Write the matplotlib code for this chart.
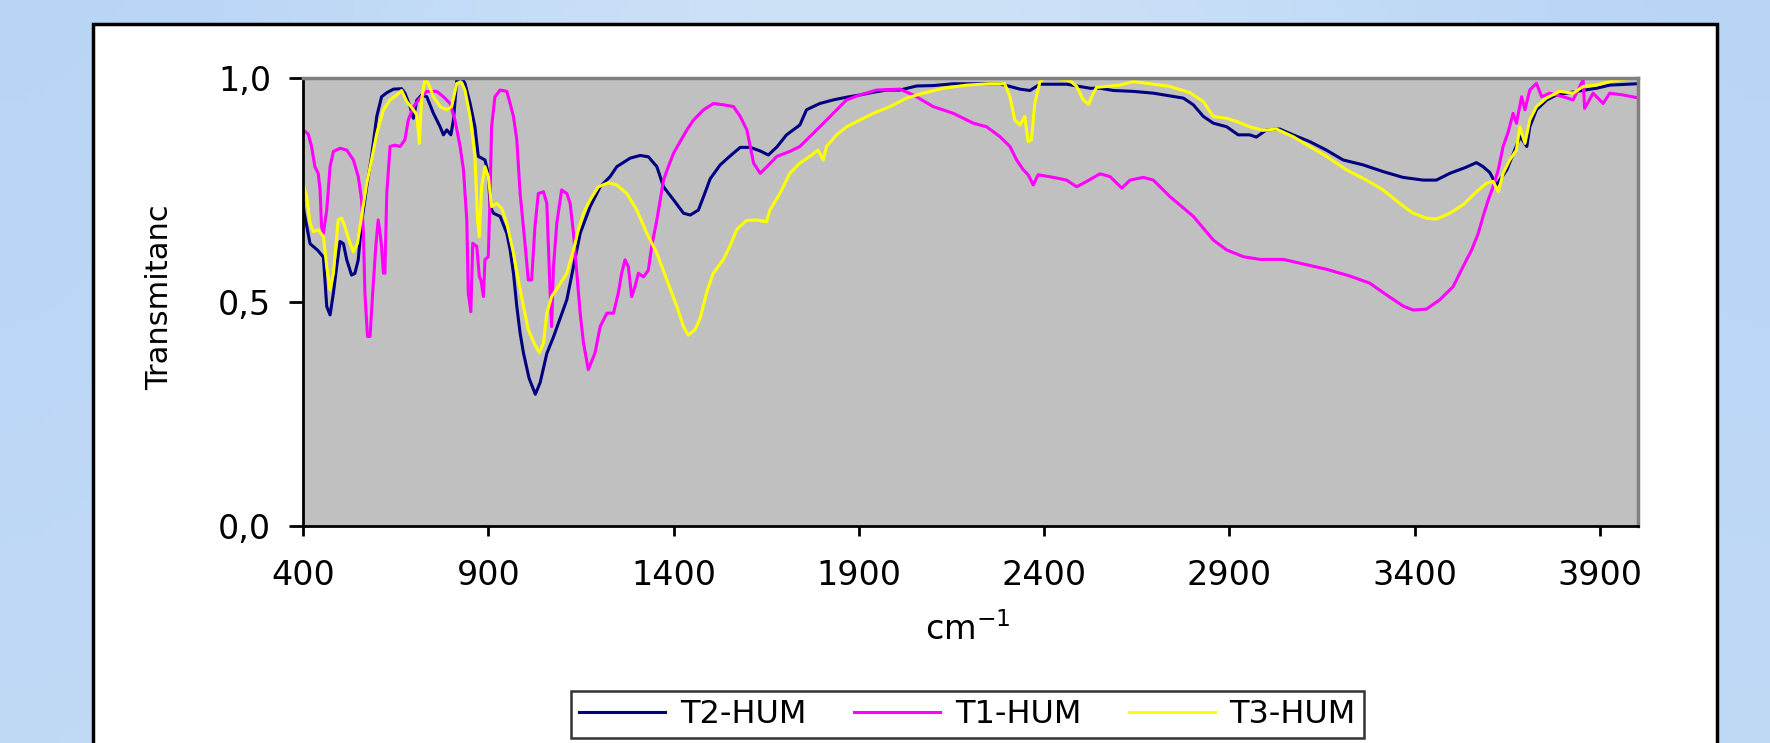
import numpy as np
import matplotlib
matplotlib.use("Agg")
import matplotlib.pyplot as plt
from matplotlib.patches import Rectangle
from matplotlib.ticker import FuncFormatter

# espectros (cm-1, transmitancia)
t2_cm = [400, 403, 419, 440, 455, 464, 473, 482, 491, 500,
         509, 518, 531, 540, 549, 558, 572, 585, 599, 612,
         626, 644, 666, 675, 689, 698, 707, 720, 734, 752,
         770, 779, 788, 799, 806, 815, 828, 837, 851, 864,
         873, 882, 891, 900, 905, 914, 932, 950, 959, 968,
         977, 986, 995, 1010, 1027, 1040, 1058, 1076, 1112, 1130,
         1148, 1175, 1202, 1229, 1247, 1283, 1310, 1332, 1355, 1373,
         1400, 1427, 1445, 1467, 1481, 1499, 1526, 1553, 1580, 1607,
         1634, 1656, 1679, 1705, 1741, 1759, 1795, 1831, 1867, 1903,
         1939, 1975, 2011, 2056, 2101, 2155, 2209, 2281, 2308, 2335,
         2362, 2389, 2461, 2497, 2524, 2551, 2587, 2641, 2695, 2740,
         2776, 2803, 2830, 2857, 2893, 2924, 2955, 2973, 3000, 3036,
         3072, 3117, 3162, 3207, 3261, 3315, 3369, 3423, 3459, 3495,
         3540, 3567, 3585, 3603, 3621, 3630, 3649, 3667, 3685, 3703,
         3711, 3729, 3757, 3783, 3837, 3891, 3927, 4000]
t2_tr = [0.72, 0.70, 0.63, 0.615, 0.60, 0.49, 0.471, 0.52, 0.58, 0.635,
         0.63, 0.594, 0.56, 0.564, 0.594, 0.676, 0.758, 0.825, 0.914, 0.958,
         0.967, 0.975, 0.976, 0.966, 0.936, 0.91, 0.95, 0.962, 0.958, 0.921,
         0.891, 0.873, 0.884, 0.873, 0.906, 0.996, 1.0, 0.988, 0.943, 0.891,
         0.825, 0.821, 0.817, 0.787, 0.713, 0.698, 0.691, 0.653, 0.616, 0.564,
         0.49, 0.43, 0.386, 0.33, 0.294, 0.32, 0.385, 0.422, 0.505, 0.579,
         0.653, 0.713, 0.757, 0.78, 0.802, 0.821, 0.827, 0.824, 0.802, 0.757,
         0.728, 0.698, 0.694, 0.705, 0.735, 0.775, 0.806, 0.826, 0.845, 0.845,
         0.837, 0.828, 0.846, 0.873, 0.895, 0.929, 0.943, 0.951, 0.957, 0.962,
         0.968, 0.973, 0.973, 0.982, 0.983, 0.987, 0.987, 0.987, 0.981, 0.975,
         0.972, 0.986, 0.986, 0.981, 0.977, 0.977, 0.972, 0.97, 0.966, 0.96,
         0.955, 0.94, 0.914, 0.899, 0.891, 0.873, 0.873, 0.868, 0.884, 0.886,
         0.873, 0.858, 0.839, 0.817, 0.806, 0.791, 0.778, 0.772, 0.772, 0.787,
         0.801, 0.811, 0.802, 0.789, 0.761, 0.772, 0.795, 0.832, 0.869, 0.847,
         0.891, 0.929, 0.951, 0.962, 0.97, 0.977, 0.984, 0.987]

t1_cm = [400, 414, 423, 432, 441, 446, 450, 455, 464, 473,
         482, 500, 518, 536, 549, 558, 563, 567, 574, 581,
         588, 597, 603, 608, 612, 617, 621, 626, 635, 648,
         662, 675, 684, 698, 716, 734, 761, 779, 797, 810,
         824, 833, 842, 846, 853, 858, 869, 876, 880, 887,
         891, 900, 905, 909, 918, 932, 950, 959, 968, 977,
         986, 999, 1008, 1017, 1026, 1035, 1049, 1058, 1067, 1071,
         1076, 1085, 1098, 1112, 1121, 1130, 1139, 1148, 1157, 1170,
         1188, 1202, 1220, 1238, 1251, 1260, 1269, 1278, 1287, 1296,
         1305, 1319, 1332, 1341, 1355, 1364, 1373, 1386, 1400, 1418,
         1436, 1454, 1481, 1508, 1535, 1562, 1580, 1598, 1616, 1634,
         1652, 1679, 1714, 1741, 1768, 1795, 1831, 1867, 1903, 1948,
         2011, 2047, 2101, 2155, 2209, 2245, 2281, 2308, 2326, 2344,
         2357, 2371, 2384, 2425, 2461, 2488, 2515, 2551, 2578, 2610,
         2632, 2668, 2695, 2740, 2803, 2857, 2893, 2938, 2983, 3046,
         3099, 3162, 3225, 3279, 3324, 3369, 3396, 3432, 3468, 3504,
         3531, 3554, 3572, 3585, 3599, 3612, 3626, 3639, 3653, 3666,
         3675, 3689, 3698, 3711, 3729, 3743, 3765, 3801, 3828, 3855,
         3859, 3882, 3909, 3927, 3963, 4000]
t1_tr = [0.884, 0.875, 0.847, 0.802, 0.787, 0.75, 0.668, 0.653, 0.705, 0.802,
         0.836, 0.843, 0.839, 0.817, 0.78, 0.728, 0.653, 0.52, 0.423, 0.423,
         0.52, 0.631, 0.683, 0.653, 0.624, 0.564, 0.564, 0.742, 0.847, 0.85,
         0.847, 0.862, 0.906, 0.936, 0.955, 0.97, 0.97, 0.958, 0.943, 0.906,
         0.847, 0.795, 0.683, 0.52, 0.478, 0.631, 0.624, 0.556, 0.549, 0.512,
         0.594, 0.601, 0.742, 0.891, 0.958, 0.973, 0.97, 0.943, 0.914, 0.862,
         0.742, 0.631, 0.549, 0.549, 0.668, 0.742, 0.746, 0.72, 0.52, 0.445,
         0.579, 0.676, 0.75, 0.742, 0.72, 0.653, 0.564, 0.475, 0.408, 0.349,
         0.386, 0.445, 0.475, 0.475, 0.52, 0.564, 0.594, 0.579, 0.512, 0.534,
         0.564, 0.556, 0.571, 0.624, 0.683, 0.728, 0.772, 0.802, 0.832, 0.858,
         0.884, 0.906, 0.929, 0.943, 0.94, 0.936, 0.914, 0.884, 0.81, 0.787,
         0.802, 0.825, 0.836, 0.847, 0.869, 0.891, 0.921, 0.951, 0.962, 0.973,
         0.975, 0.962, 0.936, 0.921, 0.899, 0.891, 0.869, 0.847, 0.817, 0.795,
         0.784, 0.761, 0.784, 0.778, 0.772, 0.757, 0.769, 0.786, 0.78, 0.754,
         0.772, 0.778, 0.772, 0.735, 0.691, 0.638, 0.616, 0.601, 0.595, 0.595,
         0.585, 0.573, 0.558, 0.542, 0.516, 0.491, 0.482, 0.484, 0.505, 0.534,
         0.579, 0.616, 0.653, 0.691, 0.728, 0.757, 0.795, 0.847, 0.88, 0.921,
         0.899, 0.958, 0.929, 0.973, 0.988, 0.958, 0.966, 0.958, 0.951, 0.996,
         0.932, 0.966, 0.943, 0.966, 0.962, 0.956]

t3_cm = [400, 410, 419, 428, 441, 455, 464, 473, 482, 495,
         504, 513, 527, 536, 547, 558, 572, 585, 599, 617,
         635, 653, 666, 680, 698, 707, 714, 720, 729, 738,
         752, 770, 788, 801, 815, 828, 837, 851, 864, 871,
         876, 882, 891, 900, 909, 923, 936, 950, 968, 981,
         995, 1008, 1026, 1038, 1049, 1058, 1071, 1089, 1112, 1130,
         1143, 1157, 1175, 1197, 1224, 1247, 1274, 1301, 1328, 1355,
         1382, 1409, 1427, 1440, 1458, 1472, 1489, 1507, 1534, 1552,
         1570, 1597, 1624, 1651, 1660, 1687, 1714, 1741, 1768, 1790,
         1804, 1813, 1840, 1867, 1903, 1939, 1984, 2029, 2074, 2128,
         2191, 2254, 2294, 2308, 2321, 2335, 2348, 2357, 2366, 2375,
         2389, 2402, 2434, 2470, 2488, 2506, 2520, 2533, 2542, 2569,
         2605, 2641, 2677, 2740, 2794, 2830, 2857, 2893, 2919, 2955,
         2991, 3027, 3072, 3117, 3162, 3216, 3270, 3315, 3360, 3396,
         3432, 3459, 3495, 3531, 3567, 3594, 3612, 3626, 3639, 3657,
         3675, 3684, 3698, 3711, 3729, 3756, 3792, 3828, 3855, 3891,
         3927, 3963, 4000]
t3_tr = [0.765, 0.735, 0.676, 0.657, 0.661, 0.646, 0.579, 0.527, 0.564, 0.683,
         0.687, 0.668, 0.631, 0.612, 0.631, 0.691, 0.765, 0.817, 0.876, 0.929,
         0.951, 0.962, 0.972, 0.947, 0.929, 0.917, 0.854, 0.951, 0.999, 0.988,
         0.958, 0.936, 0.929, 0.936, 0.988, 0.99, 0.973, 0.914, 0.825, 0.683,
         0.646, 0.757, 0.802, 0.78, 0.713, 0.72, 0.709, 0.676, 0.609, 0.549,
         0.49, 0.438, 0.404, 0.387, 0.408, 0.475, 0.512, 0.534, 0.564, 0.616,
         0.661, 0.698, 0.728, 0.757, 0.766, 0.761, 0.742, 0.705, 0.653, 0.609,
         0.549, 0.49, 0.445, 0.426, 0.438, 0.464, 0.52, 0.564, 0.594, 0.624,
         0.661, 0.682, 0.683, 0.679, 0.705, 0.742, 0.787, 0.81, 0.825, 0.839,
         0.817, 0.847, 0.873, 0.891, 0.906, 0.921, 0.936, 0.955, 0.966, 0.977,
         0.984, 0.987, 0.987, 0.958, 0.906, 0.895, 0.914, 0.858, 0.862, 0.943,
         0.992, 1.0, 0.999, 0.994, 0.981, 0.951, 0.941, 0.966, 0.979, 0.981,
         0.984, 0.992, 0.988, 0.981, 0.967, 0.947, 0.914, 0.91, 0.903, 0.891,
         0.883, 0.886, 0.869, 0.847, 0.825, 0.795, 0.772, 0.75, 0.72, 0.698,
         0.687, 0.685, 0.698, 0.717, 0.746, 0.765, 0.769, 0.746, 0.787, 0.817,
         0.839, 0.891, 0.854, 0.906, 0.936, 0.955, 0.97, 0.966, 0.981, 0.984,
         0.992, 0.997, 1.0]

labels = ['T2-HUM', 'T1-HUM', 'T3-HUM']
cores = ['#000080', '#FF00FF', '#FFFF00']
x_ticks = [400, 900, 1400, 1900, 2400, 2900, 3400, 3900]
y_ticks = [0.0, 0.5, 1.0]

plt.rcParams['font.family'] = ['DejaVu Sans']

fig = plt.figure(figsize=(17.7, 7.43), dpi=100)

## fundo azul (gradiente simples)
bg = fig.add_axes([0, 0, 1, 1], zorder=-5)
gx = np.linspace(0, 1, 200)
gy = np.linspace(0, 1, 80)
GX, GY = np.meshgrid(gx, gy)
c1 = np.array([0.70, 0.82, 0.96])
c2 = np.array([0.83, 0.90, 0.97])
w = 0.5 + 0.5*np.cos(2*np.pi*(GX - 0.5)) * 0.6 + 0.2*GY
w = np.clip(w, 0, 1)[..., None]
bg.imshow(c1*(1-w) + c2*w, aspect='auto', extent=[0, 1, 0, 1])
bg.axis('off')

## moldura branca
fig.add_artist(Rectangle((0.0525, -0.05), 0.9175, 1.0177, transform=fig.transFigure,
                         facecolor='white', edgecolor='black', lw=2.5, zorder=0))

ax = fig.add_axes([0.1712, 0.2921, 0.7542, 0.6030], zorder=2)
ax.set_facecolor('#C0C0C0')

series = [(t2_cm, t2_tr), (t1_cm, t1_tr), (t3_cm, t3_tr)]
for (xs, ys), lab, cor in zip(series, labels, cores):
    ax.plot(xs, ys, '-', color=cor, lw=2.2, label=lab)

ax.set_xlim(400, 4003)
ax.set_ylim(0, 1.0)
ax.set_xticks(x_ticks)
ax.set_yticks(y_ticks)
ax.yaxis.set_major_formatter(FuncFormatter(lambda v, p: f'{v:.1f}'.replace('.', ',')))
ax.tick_params(axis='x', direction='out', length=7, width=2, pad=17, labelsize=24)
ax.tick_params(axis='y', direction='out', length=10, width=2, pad=13, labelsize=24)
for s in ['left', 'bottom']:
    ax.spines[s].set_color('black')
    ax.spines[s].set_linewidth(2)
for s in ['top', 'right']:
    ax.spines[s].set_color('#808080')
    ax.spines[s].set_linewidth(2.5)

fig.text(0.0904, 0.600, 'Transmitanc', rotation=90, ha='center', va='center', fontsize=22)
fig.text(0.547, 0.152, 'cm$^{-1}$', ha='center', va='center', fontsize=24)

leg = fig.legend(loc='center', bbox_to_anchor=(0.5466, 0.0384), ncol=3, fontsize=23,
                 frameon=True, fancybox=False, handlelength=2.7, handletextpad=0.45,
                 columnspacing=1.5, borderpad=0.25)
leg.get_frame().set_edgecolor('black')
leg.get_frame().set_linewidth(1.8)

fig.savefig('out.png', dpi=100)
